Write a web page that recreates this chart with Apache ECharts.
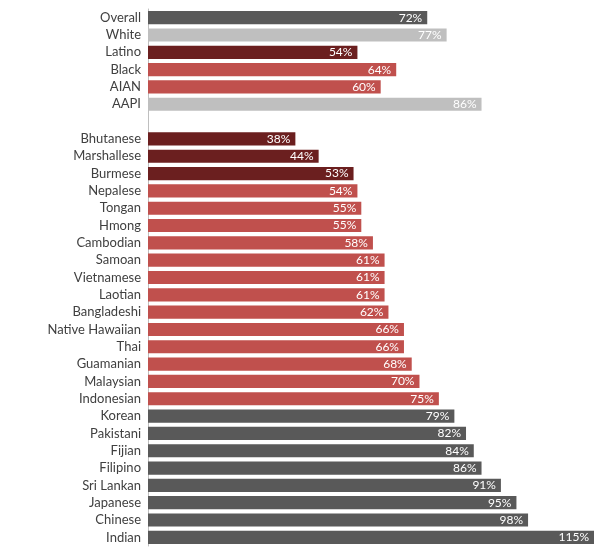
<!DOCTYPE html>
<html><head><meta charset="utf-8">
<script src="https://cdn.jsdelivr.net/npm/echarts@6/dist/echarts.min.js"></script>
<style>html,body{margin:0;padding:0;background:#fff}#c{width:600px;height:554px}</style>
</head><body><div id="c"></div>
<script>
const categories = ["Overall","White","Latino","Black","AIAN","AAPI","","Bhutanese","Marshallese","Burmese","Nepalese","Tongan","Hmong","Cambodian","Samoan","Vietnamese","Laotian","Bangladeshi","Native Hawaiian","Thai","Guamanian","Malaysian","Indonesian","Korean","Pakistani","Fijian","Filipino","Sri Lankan","Japanese","Chinese","Indian"];
const values = [72,77,54,64,60,86,null,38,44,53,54,55,55,58,61,61,61,62,66,66,68,70,75,79,82,84,86,91,95,98,115];
const groups = ["g","l","d","r","r","l","","d","d","d","r","r","r","r","r","r","r","r","r","r","r","r","r","g","g","g","g","g","g","g","g"];
const palette = {g:"#595959", l:"#bfbfbf", d:"#6b1f1f", r:"#c0504d", "":"#fff"};
const chart = echarts.init(document.getElementById('c'));
chart.setOption({
  animation:false,
  grid:{left:148,right:6,top:9,bottom:8,containLabel:false},
  xAxis:{type:'value',min:0,max:115,show:false},
  yAxis:{type:'category',inverse:true,data:categories,
    axisLine:{lineStyle:{color:'#bfbfbf'}},axisTick:{show:false},
    axisLabel:{color:'#404040',fontSize:13,fontFamily:'Lato, sans-serif',margin:7}},
  series:[{type:'bar',barWidth:'76%',
    data:values.map((v,i)=>({value:v,itemStyle:{color:palette[groups[i]]}})),
    label:{show:true,position:'insideRight',color:'#fff',fontSize:12,fontFamily:'Lato, sans-serif',
      formatter:p=>p.value==null?'':p.value+'%'}}]
});
</script></body></html>
